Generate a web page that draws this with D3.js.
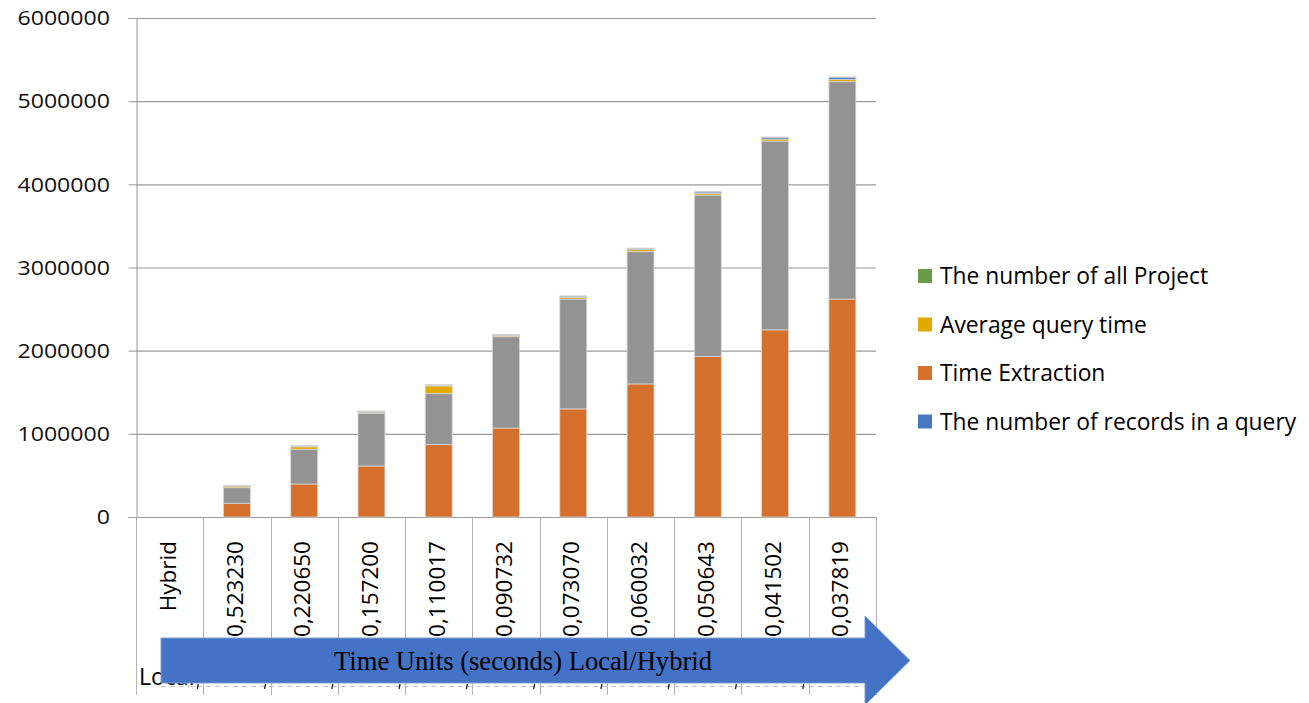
<!DOCTYPE html>
<html>
<head>
<meta charset="utf-8">
<script src="https://cdn.jsdelivr.net/npm/d3@7"></script>
<style>
  body { margin: 0; background: #ffffff; }
  svg { display: block; }
</style>
</head>
<body>
<svg id="chart" width="1309" height="703"></svg>
<script>
// Category labels (query time per record, Local/Hybrid)
const categories = ["Hybrid", "0,523230", "0,220650", "0,157200", "0,110017", "0,090732",
                    "0,073070", "0,060032", "0,050643", "0,041502", "0,037819"];

// Stacked series, bottom to top
const timeExtraction   = [0, 165000, 397000, 613000, 870000, 1070000, 1300000, 1600000, 1930000, 2250000, 2620000];
const unlistedSeries   = [0, 187000, 417000, 634000, 613000, 1098000, 1321000, 1590000, 1940000, 2270000, 2614000];
const averageQueryTime = [0, 20000, 30000, 12000, 93000, 16000, 20000, 24000, 20000, 24000, 28000];
const recordsInQuery   = [0, 5000, 8000, 10000, 10000, 10000, 14000, 16000, 18000, 22000, 26000];
const allProjects      = [0, 4000, 5000, 5000, 6000, 3000, 3000, 3000, 3000, 3000, 3000];

const yTicks = [0, 1000000, 2000000, 3000000, 4000000, 5000000, 6000000];

const legendLabels = ["The number of all Project", "Average query time", "Time Extraction", "The number of records in a query"];
const legendKeys   = ["allProjects", "averageQueryTime", "timeExtraction", "recordsInQuery"];

const arrowTitle = "Time Units (seconds) Local/Hybrid";
const bottomRowLabel = "Local";

const colors = {
  timeExtraction: "#d4702b",
  unlistedSeries: "#939393",
  averageQueryTime: "#e2aa00",
  recordsInQuery: "#4a78bf",
  allProjects: "#6a9a45"
};

const stackKeys = ["timeExtraction", "unlistedSeries", "averageQueryTime", "recordsInQuery", "allProjects"];
const seriesValues = { timeExtraction, unlistedSeries, averageQueryTime, recordsInQuery, allProjects };

const rows = categories.map((c, i) => {
  const r = { category: c };
  stackKeys.forEach(k => r[k] = seriesValues[k][i]);
  return r;
});

// Layout
const plot = { left: 136, right: 876, top: 18, bottom: 517 };
const catAreaBottom = 695;

const svg = d3.select("#chart");

const x = d3.scaleBand()
  .domain(categories)
  .range([plot.left, plot.right])
  .paddingInner(0.6)
  .paddingOuter(0.3);

const y = d3.scaleLinear()
  .domain([0, 6000000])
  .range([plot.bottom, plot.top]);

const step = x.step();

// Horizontal gridlines
svg.append("g")
  .selectAll("line")
  .data(yTicks.filter(t => t > 0))
  .join("line")
  .attr("x1", plot.left).attr("x2", plot.right)
  .attr("y1", d => y(d) + 0.5).attr("y2", d => y(d) + 0.5)
  .attr("stroke", "#9a9a9a")
  .attr("stroke-width", 1.2);

// Y axis
const yAxis = svg.append("g")
  .attr("transform", `translate(${plot.left + 0.5},0)`)
  .call(d3.axisLeft(y).tickValues(yTicks).tickFormat(d3.format("d")).tickSize(8).tickPadding(0));
yAxis.select(".domain").attr("stroke", "#9a9a9a");
yAxis.selectAll(".tick line").attr("stroke", "#9a9a9a");
yAxis.selectAll(".tick text").remove();

// Y tick labels, slightly widened face
svg.append("g")
  .selectAll("text")
  .data(yTicks)
  .join("text")
  .attr("transform", d => `translate(110,${y(d)}) scale(1.14,1)`)
  .attr("text-anchor", "end")
  .attr("dy", "0.36em")
  .attr("font-family", "Open Sans, sans-serif")
  .attr("font-size", 20.3)
  .attr("fill", "#111")
  .text(d => d3.format("d")(d));

// Category area: baseline and dividers
svg.append("line")
  .attr("x1", plot.left).attr("x2", plot.right)
  .attr("y1", plot.bottom + 0.5).attr("y2", plot.bottom + 0.5)
  .attr("stroke", "#9a9a9a").attr("stroke-width", 1.2);

const boundaries = categories.map(c => x(c) - (step - x.bandwidth()) / 2).concat([plot.right]);
svg.append("g")
  .selectAll("line")
  .data(boundaries)
  .join("line")
  .attr("x1", d => Math.round(d) + 0.5).attr("x2", d => Math.round(d) + 0.5)
  .attr("y1", plot.bottom).attr("y2", catAreaBottom)
  .attr("stroke", "#b4b4b4").attr("stroke-width", 1);

// Rotated category labels
svg.append("g")
  .selectAll("text")
  .data(categories)
  .join("text")
  .attr("transform", d => `translate(${x(d) + x.bandwidth() / 2 - 2},541) rotate(-90)`)
  .attr("text-anchor", "end")
  .attr("dy", "0.36em")
  .attr("font-family", "Open Sans, sans-serif")
  .attr("font-size", 22.5)
  .attr("fill", "#000")
  .text(d => d);

// Second label row (mostly hidden behind the arrow)
svg.append("text")
  .attr("x", 139).attr("y", 685)
  .attr("font-family", "Open Sans, sans-serif")
  .attr("font-size", 23)
  .attr("fill", "#000")
  .text(bottomRowLabel);

svg.append("line")
  .attr("x1", 161).attr("x2", 866)
  .attr("y1", 686.5).attr("y2", 686.5)
  .attr("stroke", "#c4c4c4")
  .attr("stroke-dasharray", "5,4");

svg.append("g")
  .selectAll("line")
  .data(boundaries.slice(1, -1))
  .join("line")
  .attr("x1", d => d - 5).attr("x2", d => d - 6)
  .attr("y1", 684).attr("y2", 689)
  .attr("stroke", "#222").attr("stroke-width", 1.3);

// Stacked bars
const stacked = d3.stack().keys(stackKeys)(rows);
svg.append("g")
  .selectAll("g")
  .data(stacked)
  .join("g")
  .attr("fill", d => colors[d.key])
  .selectAll("rect")
  .data(d => d.filter(s => s[1] - s[0] > 0))
  .join("rect")
  .attr("x", d => x(d.data.category))
  .attr("width", x.bandwidth())
  .attr("y", d => y(d[1]))
  .attr("height", d => y(d[0]) - y(d[1]))
  .attr("stroke", "#d6d6d6")
  .attr("stroke-width", 0.8);

// Legend
const legend = svg.append("g")
  .selectAll("g")
  .data(legendLabels)
  .join("g")
  .attr("transform", (d, i) => `translate(918,${276 + i * 48.5})`);
legend.append("rect")
  .attr("x", 0).attr("y", -7)
  .attr("width", 14).attr("height", 14)
  .attr("fill", (d, i) => colors[legendKeys[i]]);
legend.append("text")
  .attr("x", 22).attr("dy", "0.36em")
  .attr("font-family", "Open Sans, sans-serif")
  .attr("font-size", 22.8)
  .attr("fill", "#000")
  .text(d => d);

// Axis title arrow
const arrow = { x0: 161, x1: 865, tip: 910, bodyTop: 638, bodyBottom: 683, headTop: 616, headBottom: 705 };
const mid = (arrow.bodyTop + arrow.bodyBottom) / 2;
const p = d3.path();
p.moveTo(arrow.x0, arrow.bodyTop);
p.lineTo(arrow.x1, arrow.bodyTop);
p.lineTo(arrow.x1, arrow.headTop);
p.lineTo(arrow.tip, mid);
p.lineTo(arrow.x1, arrow.headBottom);
p.lineTo(arrow.x1, arrow.bodyBottom);
p.lineTo(arrow.x0, arrow.bodyBottom);
p.closePath();
svg.append("path")
  .attr("d", p.toString())
  .attr("fill", "#4472c4")
  .attr("stroke", "#7b9bd6")
  .attr("stroke-width", 1);

svg.append("text")
  .attr("x", 523).attr("y", mid)
  .attr("dy", "0.35em")
  .attr("text-anchor", "middle")
  .attr("font-family", "Liberation Serif, Times New Roman, serif")
  .attr("font-size", 26.6)
  .attr("fill", "#000")
  .text(arrowTitle);
</script>
</body>
</html>
